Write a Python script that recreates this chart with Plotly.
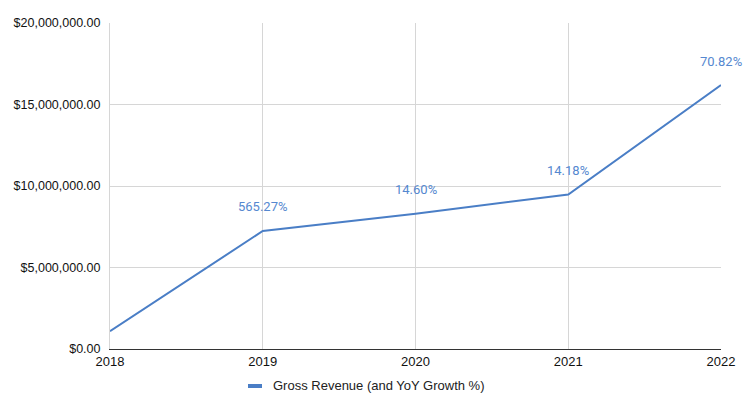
import plotly.graph_objects as go

years = ["2018", "2019", "2020", "2021", "2022"]
revenue = [1090000, 7240000, 8300000, 9480000, 16190000]
growth_labels = ["", "565.27%", "14.60%", "14.18%", "70.82%"]
y_ticks = [0, 5000000, 10000000, 15000000, 20000000]
y_tick_labels = ["$0.00", "$5,000,000.00", "$10,000,000.00", "$15,000,000.00", "$20,000,000.00"]
series_name = "Gross Revenue (and YoY Growth %)"

line_color = "#4a7ec6"
label_color = "#5588d0"

W, H = 751, 394
ML, MR, MT, MB = 110, 30, 23, 45
pw, ph = W - ML - MR, H - MT - MB


def px_x(p):
    return (p - ML) / pw


def px_y(p):
    return (H - MB - p) / ph


fig = go.Figure()
fig.add_trace(go.Scatter(
    x=list(range(len(years))), y=revenue, mode="lines",
    line=dict(color=line_color, width=2),
    name=series_name, showlegend=False,
))

for i, (v, t) in enumerate(zip(revenue, growth_labels)):
    if t:
        fig.add_annotation(x=i, y=v, text=t, showarrow=False, yshift=24,
                           font=dict(family="Roboto", size=13, color=label_color))

# legend (swatch + text)
fig.add_shape(type="rect", xref="paper", yref="paper",
              x0=px_x(248), x1=px_x(262), y0=px_y(388), y1=px_y(384),
              fillcolor=line_color, line=dict(width=0))
fig.add_annotation(xref="paper", yref="paper", x=px_x(271), y=px_y(385.5),
                   xanchor="left", yanchor="middle", text=series_name, showarrow=False,
                   font=dict(family="Liberation Sans, Arial", size=13, color="#222222"))

fig.update_layout(
    width=W, height=H,
    margin=dict(l=ML, r=MR, t=MT, b=MB),
    paper_bgcolor="white", plot_bgcolor="white",
    font=dict(family="Liberation Sans, Arial", size=12, color="#222222"),
    xaxis=dict(
        range=[0, len(years) - 1],
        tickvals=list(range(len(years))), ticktext=years,
        showgrid=True, gridcolor="#d6d6d6", gridwidth=1,
        showline=True, linecolor="#333333", linewidth=1,
        zeroline=False, ticks="", tickfont=dict(size=13, color="#111111"),
        fixedrange=True,
    ),
    yaxis=dict(
        range=[0, 20000000],
        tickvals=y_ticks, ticktext=y_tick_labels,
        showgrid=True, gridcolor="#d6d6d6", gridwidth=1,
        showline=True, linecolor="#d6d6d6", linewidth=1,
        zeroline=False, ticks="", ticklabelstandoff=6,
        tickfont=dict(size=12.5, color="#111111"),
        fixedrange=True,
    ),
    showlegend=False,
)

fig.write_html("out.html")
